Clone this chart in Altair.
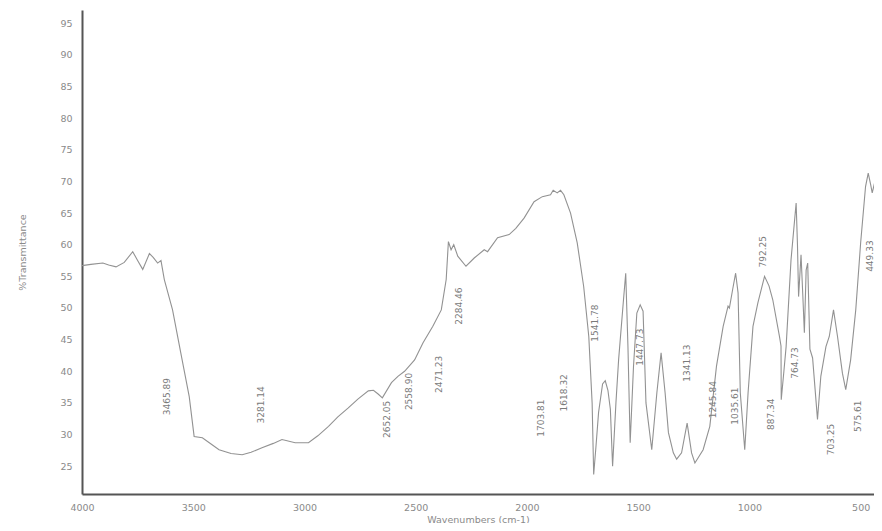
import altair as alt
import pandas as pd

# Spectrum trace (wavenumber cm-1, %T)
wavenumber = [
    4000, 3960, 3906, 3880, 3847, 3810, 3772, 3750, 3727, 3697, 3680, 3660, 3645, 3630,
    3593, 3556, 3518, 3496, 3459, 3420, 3384, 3330, 3280, 3240, 3191, 3140, 3101, 3042,
    2982, 2940, 2892, 2850, 2803, 2760, 2713, 2690, 2669, 2650, 2609, 2580, 2550, 2505,
    2467, 2423, 2385, 2363, 2353, 2341, 2329, 2311, 2274, 2237, 2192, 2177, 2132, 2080,
    2050, 2013, 1968, 1931, 1894, 1882, 1864, 1849, 1834, 1804, 1774, 1745, 1722, 1707,
    1700, 1690, 1678, 1660, 1648, 1636, 1625, 1615, 1600, 1588, 1566, 1556, 1546, 1536,
    1521, 1506, 1491, 1478, 1465, 1439, 1416, 1397, 1379, 1364, 1342, 1327, 1305, 1280,
    1260, 1245, 1208, 1178, 1148, 1118, 1096, 1090, 1075, 1062, 1051, 1041, 1021, 1006,
    984, 962, 932, 912, 895, 865, 858, 857, 845, 835, 813, 790, 784, 779, 768, 760,
    753, 745, 738, 728, 716, 694, 679, 656, 641, 622, 604, 582, 567, 545, 522, 500,
    478, 466, 455, 448, 438, 430, 425, 418, 410, 400,
]
transmittance = [
    56.7, 56.9, 57.1, 56.8, 56.5, 57.2, 58.9, 57.5, 56.1, 58.6, 58.0, 57.1, 57.5, 54.5,
    49.7, 42.9, 36.0, 29.7, 29.5, 28.5, 27.6, 27.0, 26.8, 27.2, 27.9, 28.6, 29.2, 28.7,
    28.7, 29.8, 31.3, 32.8, 34.2, 35.6, 36.9, 37.0, 36.4, 35.8, 38.2, 39.2, 40.0, 41.8,
    44.5, 47.1, 49.7, 54.5, 60.5, 59.2, 60.0, 58.2, 56.6, 57.9, 59.2, 58.9, 61.1, 61.6,
    62.6, 64.2, 66.8, 67.6, 67.9, 68.6, 68.2, 68.6, 67.9, 65.0, 60.3, 53.4, 45.5, 35.0,
    23.7, 28.0, 33.5, 38.0, 38.5, 37.0, 34.0, 25.0, 35.0, 41.8, 51.3, 55.5, 43.9, 28.7,
    40.8, 49.2, 50.5, 49.5, 35.0, 27.6, 36.6, 42.9, 36.6, 30.3, 27.1, 26.1, 27.1, 31.8,
    27.1, 25.5, 27.6, 31.3, 40.8, 47.1, 50.3, 50.0, 53.0, 55.5, 52.4, 36.6, 27.6, 36.6,
    47.1, 50.8, 55.0, 53.5, 51.3, 45.5, 44.0, 35.5, 40.0, 43.9, 57.6, 66.6, 60.0, 51.8, 58.4, 52.0,
    46.1, 56.0, 57.1, 43.5, 42.1, 32.4, 39.2, 43.9, 45.5, 49.7, 45.5, 39.7, 37.1, 41.8, 49.7, 60.3,
    69.2, 71.3, 69.5, 68.2, 69.7, 66.0, 62.9, 72.0, 77.5, 80.0,
]

# Peak annotations (text, position of the label)
peak_text = [
    "3465.89", "3281.14", "2652.05", "2558.90", "2471.23", "2284.46", "1703.81",
    "1618.32", "1541.78", "1447.73", "1341.13", "1245.84", "1035.61", "887.34",
    "792.25", "764.73", "703.25", "575.61", "449.33",
]
peak_x = [3620, 3194, 2627, 2530, 2395, 2305, 1939, 1835, 1693, 1494, 1282, 1162,
          1065, 901, 938, 796, 632, 512, 458]
peak_y = [36.0, 34.7, 32.4, 36.8, 39.5, 50.3, 32.6, 36.6, 47.6, 43.8, 41.3, 35.5,
          34.5, 33.2, 58.9, 41.3, 29.2, 32.9, 58.2]

x_ticks = [4000, 3500, 3000, 2500, 2000, 1500, 1000, 500]
y_ticks = [25, 30, 35, 40, 45, 50, 55, 60, 65, 70, 75, 80, 85, 90, 95]

spec = pd.DataFrame({"w": wavenumber, "t": transmittance})
peaks = pd.DataFrame({"w": peak_x, "t": peak_y, "label": peak_text})

FONT = "DejaVu Sans"

x_scale = alt.Scale(domain=[4000, 440], nice=False, zero=False)
y_scale = alt.Scale(domain=[20.6, 97.1], nice=False, zero=False)

x_axis = alt.Axis(
    title="Wavenumbers (cm-1)", values=x_ticks, format="d", ticks=False,
    grid=False, labelPadding=8, domainColor="#555555", domainWidth=2,
    labelColor="#8a8a8a", labelFont=FONT, labelFontSize=9.5, labelOverlap=False,
    titleFont=FONT, titleFontSize=9.5, titleFontWeight="normal", titleColor="#8a8a8a",
    titleY=25, titleBaseline="middle", labelFlush=False,
)
y_axis = alt.Axis(
    title="%Transmittance", values=y_ticks, tickCount=15, ticks=False, grid=False,
    labelPadding=10, domainColor="#555555", domainWidth=2,
    labelColor="#8a8a8a", labelFont=FONT, labelFontSize=9.5, labelOverlap=False,
    labelSeparation=0, labelFlush=False,
    titleFont=FONT, titleFontSize=9.5, titleFontWeight="normal", titleColor="#8a8a8a",
    titleX=-60, titleBaseline="middle", titleAngle=270,
)

line = alt.Chart(spec).mark_line(color="#929292", strokeWidth=1.1, clip=True).encode(
    x=alt.X("w:Q", scale=x_scale, axis=x_axis),
    y=alt.Y("t:Q", scale=y_scale, axis=y_axis),
    order=alt.Order("w:Q", sort="descending"),
)

labels = alt.Chart(peaks).mark_text(
    angle=270, align="center", baseline="middle", font=FONT, fontSize=9, color="#7a7a7a"
).encode(
    x=alt.X("w:Q", scale=x_scale, axis=x_axis),
    y=alt.Y("t:Q", scale=y_scale, axis=y_axis),
    text="label:N",
)

chart = (line + labels).properties(
    width=792, height=484,
    autosize=alt.AutoSizeParams(type="none"),
    padding={"left": 74, "top": 2, "right": 0, "bottom": 29},
    background="white",
).configure_view(stroke=None).configure_axis(labelOverlap=False)

chart.save("out.html", embed_options={"renderer": "svg", "actions": False})
